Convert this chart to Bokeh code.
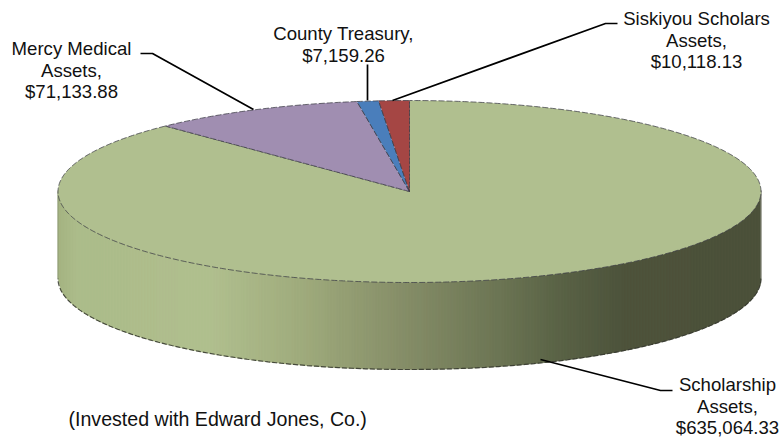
import numpy as np
from bokeh.plotting import figure
from bokeh.embed import file_html
from bokeh.resources import INLINE
from bokeh.core.properties import value

# Data
names = ["Scholarship Assets", "Mercy Medical Assets", "County Treasury", "Siskiyou Scholars Assets"]
amounts = [635064.33, 71133.88, 7159.26, 10118.13]
top_colors = ["#B0BF8F", "#A08EB1", "#4A7EBB", "#A54644"]
label_lines = [["Scholarship", "Assets,"], ["Mercy Medical", "Assets,"], ["County Treasury,"], ["Siskiyou Scholars", "Assets,"]]
label_cx = [727, 71, 343, 696]
label_cy = [384, 48, 33, 18]
leaders_x = [[540, 660, 672], [140, 152, 253], [367, 367], [392, 605, 617]]
leaders_y = [[359, 390, 390], [53, 53, 109], [64, 100], [100, 23, 23]]
note = "(Invested with Edward Jones, Co.)"

# Geometry of the projected disc
CX, CY, RX, RY, DEPTH = 409.0, 191.0, 351.5, 91.0, 87.0
FONT = value("Liberation Sans")
FS = "18.6px"
LINE = 21.5

p = figure(width=782, height=438, x_range=(0, 782), y_range=(438, 0),
           output_backend="svg", toolbar_location=None, min_border=0)
p.xaxis.visible = False
p.yaxis.visible = False
p.grid.visible = False
p.outline_line_color = None
p.background_fill_color = "white"
p.border_fill_color = "white"


def ell(theta, dy=0.0):
    return CX + RX * np.sin(theta), CY - RY * np.cos(theta) + dy


# Side wall: shaded in thin vertical strips
stops_x = [58, 75, 210, 300, 400, 500, 560, 620, 760]
stops_r = [165, 172, 177, 160, 135, 108, 90, 78, 76]
stops_g = [180, 188, 192, 172, 143, 117, 99, 84, 81]
stops_b = [130, 138, 143, 125, 105, 84, 70, 60, 58]
edges = np.arange(CX - RX, CX + RX + 3, 3.0)
xs, ys, cols = [], [], []
for a, b in zip(edges[:-1], edges[1:]):
    b = min(b, CX + RX)
    xx = np.array([a, b])
    s = np.sqrt(np.clip(1 - ((xx - CX) / RX) ** 2, 0, 1))
    xs.append([a, b, b, a])
    ys.append([CY + RY * s[0] - 1, CY + RY * s[1] - 1, CY + RY * s[1] + DEPTH, CY + RY * s[0] + DEPTH])
    m = (a + b) / 2
    c = "#%02x%02x%02x" % tuple(int(np.interp(m, stops_x, st)) for st in (stops_r, stops_g, stops_b))
    cols.append(c)
p.patches(xs, ys, fill_color=cols, line_color=cols, line_width=0.6)

# Lower rim
th = np.linspace(np.pi / 2, 3 * np.pi / 2, 240)
bx, by = ell(th, DEPTH)
p.line(bx, by, line_color="#33352c", line_width=1.2, line_alpha=0.85, line_dash="5 2")
p.line([CX + RX, CX + RX], [CY, CY + DEPTH], line_color="#8a8c80", line_width=1)
p.line([CX - RX, CX - RX], [CY, CY + DEPTH], line_color="#8d9a74", line_width=1)

# Top face wedges, drawn clockwise with the last slice ending at 12 o'clock
fracs = np.array(amounts) / sum(amounts)
ends = 2 * np.pi * np.cumsum(fracs)
starts = ends - 2 * np.pi * fracs
for i in range(len(amounts)):
    t = np.linspace(starts[i], ends[i], max(4, int(fracs[i] * 720)))
    ex, ey = ell(t)
    p.patch(np.r_[CX, ex], np.r_[CY, ey], fill_color=top_colors[i], line_color=None)
    p.line(np.r_[CX, ex, CX], np.r_[CY, ey, CY], line_color="#3c3c46", line_width=1.0,
           line_alpha=0.75, line_dash="6 2")

# Leader lines
p.multi_line(leaders_x, leaders_y, line_color="black", line_width=1.7)

# Labels
tx, ty, tt = [], [], []
for lines, amt, cx, cy in zip(label_lines, amounts, label_cx, label_cy):
    for j, s in enumerate(lines + ["${:,.2f}".format(amt)]):
        tx.append(cx)
        ty.append(cy + j * LINE)
        tt.append(s)
p.text(tx, ty, text=tt, text_font=FONT, text_font_size=FS, text_align="center",
       text_baseline="middle", text_color="#111111")
p.text([68], [418], text=[note], text_font=FONT, text_font_size="19.6px", text_align="left",
       text_baseline="middle", text_color="#111111")

open("out.html", "w").write(file_html(p, INLINE))
